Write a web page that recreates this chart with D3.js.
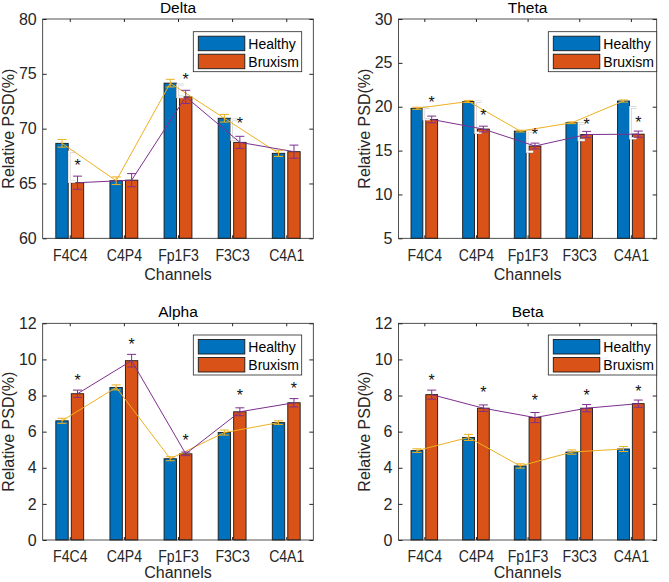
<!DOCTYPE html>
<html><head><meta charset="utf-8">
<script src="https://cdn.jsdelivr.net/npm/d3@7"></script>
<style>
html,body{margin:0;padding:0;background:#fff;}
svg{display:block;font-family:"Liberation Sans",Arial,sans-serif;}
</style></head>
<body><svg id="chart" width="669" height="582"></svg>
<script>
// ---------- data ----------
const channels = ["F4C4","C4P4","Fp1F3","F3C3","C4A1"];
const seriesNames = ["Healthy","Bruxism"];

const deltaHealthy = [68.66, 65.25, 74.15, 70.95, 67.75];
const deltaHealthyErr = [0.35, 0.35, 0.35, 0.35, 0.28];
const deltaBruxism = [65.07, 65.3, 72.9, 68.75, 67.9];
const deltaBruxismErr = [0.6, 0.6, 0.6, 0.55, 0.6];
const deltaStars = [66.8, null, 74.6, 70.6, null];
const deltaBracketTop = [67.9, null, 74.0, 70.8, null];
const deltaBracketBottom = [65.16, null, 72.9, 69.0, null];
const deltaTicks = [60, 65, 70, 75, 80];

const thetaHealthy = [19.82, 20.6, 17.22, 18.17, 20.65];
const thetaHealthyErr = [0.12, 0.12, 0.1, 0.1, 0.12];
const thetaBruxism = [18.55, 17.45, 15.52, 16.83, 16.87];
const thetaBruxismErr = [0.38, 0.33, 0.33, 0.36, 0.35];
const thetaStars = [20.69, 19.13, 16.97, 18.18, 18.4];
const thetaBracketTop = [19.93, 20.57, 17.2, 18.1, 19.93];
const thetaBracketBottom = [18.57, 17.04, 14.87, 16.2, 16.4];
const thetaTicks = [5, 10, 15, 20, 25, 30];

const alphaHealthy = [6.6, 8.45, 4.5, 5.95, 6.5];
const alphaHealthyErr = [0.14, 0.14, 0.11, 0.14, 0.1];
const alphaBruxism = [8.1, 9.93, 4.77, 7.1, 7.6];
const alphaBruxismErr = [0.2, 0.35, 0.1, 0.22, 0.23];
const alphaStars = [8.91, 10.89, 5.59, 8.1, 8.45];
const alphaBracketTop = [null, null, null, null, null];
const alphaBracketBottom = [null, null, null, null, null];
const alphaTicks = [0, 2, 4, 6, 8, 10, 12];

const betaHealthy = [4.95, 5.68, 4.1, 4.87, 5.04];
const betaHealthyErr = [0.1, 0.17, 0.12, 0.12, 0.14];
const betaBruxism = [8.05, 7.3, 6.78, 7.3, 7.55];
const betaBruxismErr = [0.25, 0.18, 0.28, 0.2, 0.2];
const betaStars = [8.9, 8.25, 7.79, 8.08, 8.3];
const betaBracketTop = [null, null, null, null, null];
const betaBracketBottom = [null, null, null, null, null];
const betaTicks = [0, 2, 4, 6, 8, 10, 12];

const panelTitles = ["Delta","Theta","Alpha","Beta"];
const xLabel = "Channels";
const yLabel = "Relative PSD(%)";

// ---------- styles / layout ----------
const colors = {healthy:"#0072BD", bruxism:"#D95319", lineH:"#EDB120", lineB:"#7E2F8E", axis:"#262626"};
const panels = [
  {title:panelTitles[0], h:deltaHealthy, he:deltaHealthyErr, b:deltaBruxism, be:deltaBruxismErr, stars:deltaStars, bt:deltaBracketTop, bb:deltaBracketBottom, ticks:deltaTicks,
   box:{l:42.7, r:313.3, t:19, b:238.3}, leg:{x:193.3, y:31.7}},
  {title:panelTitles[1], h:thetaHealthy, he:thetaHealthyErr, b:thetaBruxism, be:thetaBruxismErr, stars:thetaStars, bt:thetaBracketTop, bb:thetaBracketBottom, ticks:thetaTicks,
   box:{l:398.5, r:656.7, t:19, b:238.3}, leg:{x:548.3, y:31.7}},
  {title:panelTitles[2], h:alphaHealthy, he:alphaHealthyErr, b:alphaBruxism, be:alphaBruxismErr, stars:alphaStars, bt:alphaBracketTop, bb:alphaBracketBottom, ticks:alphaTicks,
   box:{l:42.7, r:313.3, t:323.3, b:540}, leg:{x:193.3, y:335}},
  {title:panelTitles[3], h:betaHealthy, he:betaHealthyErr, b:betaBruxism, be:betaBruxismErr, stars:betaStars, bt:betaBracketTop, bb:betaBracketBottom, ticks:betaTicks,
   box:{l:398.5, r:656.7, t:323.3, b:540}, leg:{x:548.3, y:335}}
];

const svg = d3.select("#chart");

panels.forEach(p => {
  const g = svg.append("g");
  const x = d3.scaleLinear().domain([0.5, 5.5]).range([p.box.l, p.box.r]);
  const y = d3.scaleLinear().domain(d3.extent(p.ticks)).range([p.box.b, p.box.t]);
  const unit = x(2) - x(1);
  const off = 0.143 * unit;          // bar offset from group centre
  const bw = 0.229 * unit;           // bar width
  const idx = channels.map((c,i)=>i);
  const xh = i => x(i+1) - off;
  const xb = i => x(i+1) + off;

  // bars
  g.selectAll("rect.h").data(idx).join("rect")
    .attr("x", i => xh(i) - bw/2).attr("width", bw)
    .attr("y", i => y(p.h[i])).attr("height", i => y(p.ticks[0]) - y(p.h[i]))
    .attr("fill", colors.healthy).attr("stroke", "#1a1a1a").attr("stroke-width", 0.9);
  g.selectAll("rect.b").data(idx).join("rect")
    .attr("x", i => xb(i) - bw/2).attr("width", bw)
    .attr("y", i => y(p.b[i])).attr("height", i => y(p.ticks[0]) - y(p.b[i]))
    .attr("fill", colors.bruxism).attr("stroke", "#1a1a1a").attr("stroke-width", 0.9);

  // significance brackets (white)
  idx.forEach(i => {
    if (p.bt[i] == null) return;
    const bx = xh(i) + bw/2 + 1;
    const path = `M${bx+6},${y(p.bt[i])}H${bx}V${y(p.bb[i])}H${bx+6}`;
    g.append("path").attr("d", path).attr("fill","none").attr("stroke","#cfcfcf").attr("stroke-width",2.6);
    g.append("path").attr("d", path).attr("fill","none").attr("stroke","#ffffff").attr("stroke-width",1.2);
  });

  // connecting lines
  const lineH = d3.line().x(i => xh(i)).y(i => y(p.h[i]));
  const lineB = d3.line().x(i => xb(i)).y(i => y(p.b[i]));
  g.append("path").attr("d", lineH(idx)).attr("fill","none").attr("stroke",colors.lineH).attr("stroke-width",1);
  g.append("path").attr("d", lineB(idx)).attr("fill","none").attr("stroke",colors.lineB).attr("stroke-width",1);

  // error bars
  const cap = 4.5;
  function errbars(xf, vals, errs, col) {
    idx.forEach(i => {
      const cx = xf(i), y1 = y(vals[i]+errs[i]), y2 = y(vals[i]-errs[i]);
      g.append("path")
        .attr("d", `M${cx},${y1}V${y2}M${cx-cap},${y1}H${cx+cap}M${cx-cap},${y2}H${cx+cap}`)
        .attr("fill","none").attr("stroke",col).attr("stroke-width",1);
    });
  }
  errbars(xh, p.h, p.he, colors.lineH);
  errbars(xb, p.b, p.be, colors.lineB);

  // stars
  idx.forEach(i => {
    if (p.stars[i] == null) return;
    g.append("text").attr("x", xb(i)).attr("y", y(p.stars[i]) + 7)
      .attr("text-anchor","middle").attr("font-size",16).attr("fill","#111").text("*");
  });

  // axes box
  g.append("rect").attr("x", p.box.l).attr("y", p.box.t)
    .attr("width", p.box.r - p.box.l).attr("height", p.box.b - p.box.t)
    .attr("fill","none").attr("stroke",colors.axis).attr("stroke-width",0.8);

  // y axis ticks (inside) left and right
  const yAxisL = d3.axisLeft(y).tickValues(p.ticks).tickSize(-4).tickPadding(6).tickFormat(d3.format("d"));
  const ga = g.append("g").attr("transform", `translate(${p.box.l},0)`).call(yAxisL);
  ga.select(".domain").remove();
  ga.selectAll("line").attr("stroke",colors.axis);
  ga.selectAll("text").attr("font-size",16).attr("fill",colors.axis).attr("font-family","Liberation Sans, Arial, sans-serif");
  const yAxisR = d3.axisRight(y).tickValues(p.ticks).tickSize(-4).tickFormat("");
  const gr = g.append("g").attr("transform", `translate(${p.box.r},0)`).call(yAxisR);
  gr.select(".domain").remove();
  gr.selectAll("line").attr("stroke",colors.axis);

  // x axis
  const xAxis = d3.axisBottom(x).tickValues([1,2,3,4,5]).tickSize(-3).tickPadding(11)
    .tickFormat(d => channels[d-1]);
  const gx = g.append("g").attr("transform", `translate(0,${p.box.b})`).call(xAxis);
  gx.select(".domain").remove();
  gx.selectAll("line").attr("stroke",colors.axis);
  gx.selectAll("text").attr("font-size",16).attr("fill",colors.axis)
    .attr("font-family","Liberation Sans, Arial, sans-serif").attr("transform","scale(0.88,1)");
  const xAxisT = d3.axisTop(x).tickValues([1,2,3,4,5]).tickSize(-3).tickFormat("");
  const gt = g.append("g").attr("transform", `translate(0,${p.box.t})`).call(xAxisT);
  gt.select(".domain").remove();
  gt.selectAll("line").attr("stroke",colors.axis);

  // labels
  const cx = (p.box.l + p.box.r)/2;
  g.append("text").attr("x", cx).attr("y", p.box.t - 6.5).attr("text-anchor","middle")
    .attr("font-size",15.5).attr("fill","#000").text(p.title);
  g.append("text").attr("x", cx).attr("y", Math.min(p.box.b + 42, 578)).attr("text-anchor","middle")
    .attr("font-size",16).attr("fill",colors.axis).text(xLabel);
  g.append("text").attr("transform", `translate(${p.box.l - 29},${(p.box.t+p.box.b)/2}) rotate(-90)`)
    .attr("text-anchor","middle").attr("font-size",16).attr("fill",colors.axis).text(yLabel);

  // legend
  const lg = g.append("g").attr("transform", `translate(${p.leg.x},${p.leg.y})`);
  lg.append("rect").attr("width",108.4).attr("height",40).attr("fill","#fff")
    .attr("stroke",colors.axis).attr("stroke-width",0.8);
  [colors.healthy, colors.bruxism].forEach((c,k) => {
    lg.append("rect").attr("x",5).attr("y",4.5 + k*18).attr("width",46.5).attr("height",14.5)
      .attr("fill",c).attr("stroke","#1a1a1a").attr("stroke-width",0.9);
    lg.append("text").attr("x",55).attr("y",17 + k*18).attr("font-size",14)
      .attr("fill","#000").text(seriesNames[k]);
  });
});
</script></body></html>
